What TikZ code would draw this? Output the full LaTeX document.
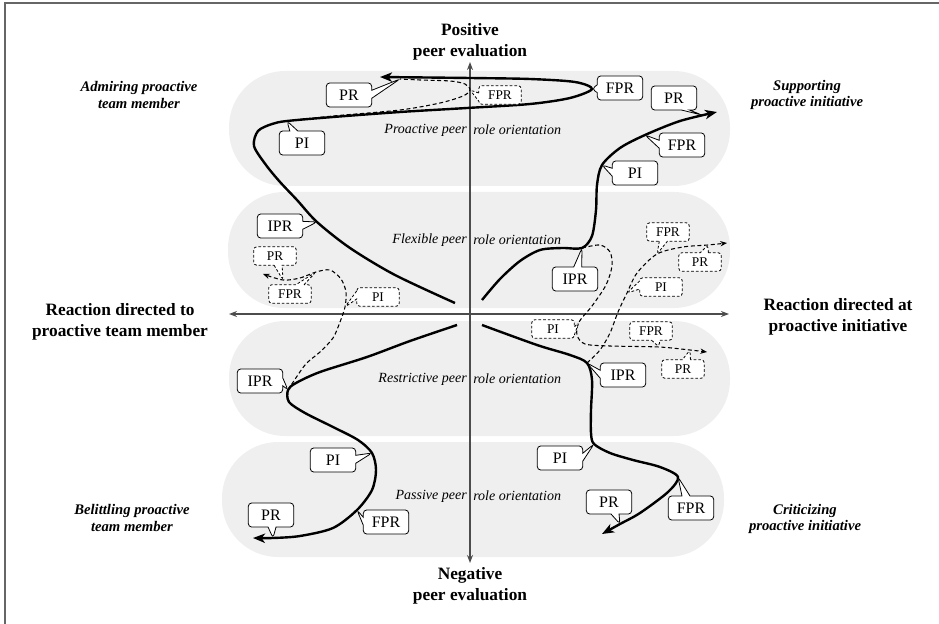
\documentclass[tikz,border=0pt]{standalone}
\usepackage{fontspec}
\setmainfont{Liberation Serif}
\usetikzlibrary{arrows.meta,shapes.callouts}

\definecolor{bandgray}{RGB}{239,239,239}

\begin{document}
\begin{tikzpicture}[x=0.75pt,y=-0.75pt,
    band/.style={fill=bandgray, rounded corners=42pt},
    axis/.style={draw=black!70, line width=1.2pt, {Stealth[length=6pt,width=4.5pt]}-{Stealth[length=6pt,width=4.5pt]}},
    main/.style={line width=1.8pt, -{Stealth[length=9pt,width=7pt,inset=2.5pt]}},
    trace/.style={line width=0.8pt, dash pattern=on 3pt off 2pt},
    tracearrow/.style={trace, -{Stealth[length=5pt,width=4pt]}},
    tag/.style={rectangle callout, draw, fill=white, rounded corners=2.5pt, line width=0.6pt,
                minimum width=34pt, minimum height=18pt, inner sep=1pt, callout pointer width=6pt,
                font=\fontsize{12}{12}\selectfont},
    dtag/.style={tag, dash pattern=on 2pt off 1.5pt, minimum width=32pt, minimum height=14pt,
                 font=\fontsize{10}{10}\selectfont},
    axislabel/.style={align=center, font=\fontsize{13}{16}\selectfont\bfseries},
    cornerlabel/.style={align=center, font=\fontsize{11}{12.5}\selectfont\bfseries\itshape},
    bandlabel/.style={font=\fontsize{10.5}{12}\selectfont\itshape, inner sep=0pt}
  ]

  \useasboundingbox (0,0) rectangle (939,624);
  \draw[black!60, line width=0.8pt] (5,624) -- (5,3) -- (939,3);

  % orientation bands
  \fill[band] (229,71) rectangle (730,186);
  \fill[band] (228,192) rectangle (730,308);
  \fill[band] (229,321) rectangle (730,436);
  \fill[band] (222,442) rectangle (724,557);

  \node[bandlabel, anchor=east] (pro-l) at (467,130) {Proactive peer};
  \node[bandlabel, anchor=west] (pro-r) at (473,130) {role orientation};
  \node[bandlabel, anchor=east] (flx-l) at (467,240) {Flexible peer};
  \node[bandlabel, anchor=west] (flx-r) at (473,240) {role orientation};
  \node[bandlabel, anchor=east] (res-l) at (467,379) {Restrictive peer};
  \node[bandlabel, anchor=west] (res-r) at (473,379) {role orientation};
  \node[bandlabel, anchor=east] (pas-l) at (467,496) {Passive peer};
  \node[bandlabel, anchor=west] (pas-r) at (473,496) {role orientation};

  % axes
  \coordinate (ax-n) at (470,62);
  \coordinate (ax-s) at (470,563);
  \coordinate (ax-w) at (229,314);
  \coordinate (ax-e) at (729,314);
  \draw[axis] (ax-n) -- (ax-s);
  \draw[axis] (ax-w) -- (ax-e);

  \node[axislabel] (pos) at (470,42) {Positive\\peer evaluation};
  \node[axislabel] (neg) at (470,586) {Negative\\peer evaluation};
  \node[axislabel] (left) at (120,322) {Reaction directed to\\proactive team member};
  \node[axislabel] (right) at (838,317) {Reaction directed at\\proactive initiative};

  \node[cornerlabel] (adm) at (139,95) {Admiring proactive\\team member};
  \node[cornerlabel] (sup) at (807,95) {Supporting\\proactive initiative};
  \node[cornerlabel] (bel) at (132,518) {Belittling proactive\\team member};
  \node[cornerlabel] (cri) at (805,519) {Criticizing\\proactive initiative};

  % points on the paths
  \coordinate (adm-s) at (455,303);
  \coordinate (adm-ipr) at (317,222);
  \coordinate (adm-pi) at (287,121);
  \coordinate (adm-fpr) at (592,89);
  \coordinate (adm-pr) at (400,79);
  \coordinate (adm-e) at (380,77);

  \coordinate (sup-s) at (482,300);
  \coordinate (sup-ipr) at (582,248);
  \coordinate (sup-pi) at (602,165);
  \coordinate (sup-fpr) at (645,135);
  \coordinate (sup-pr) at (702,115);
  \coordinate (sup-e) at (717,112);

  \coordinate (bel-s) at (457,325);
  \coordinate (bel-ipr) at (288,390);
  \coordinate (bel-pi) at (372,453);
  \coordinate (bel-fpr) at (357,510);
  \coordinate (bel-pr) at (273,538);
  \coordinate (bel-e) at (253,538);

  \coordinate (cri-s) at (482,325);
  \coordinate (cri-ipr) at (587,363);
  \coordinate (cri-pi) at (594,444);
  \coordinate (cri-fpr) at (678,477);
  \coordinate (cri-pr) at (620,524);
  \coordinate (cri-e) at (602,534);

  \coordinate (top-fpr) at (470,90);
  \coordinate (fl-pi) at (345,307);
  \coordinate (fl-fpr) at (316,272);
  \coordinate (fl-pr) at (283,280);
  \coordinate (fl-e) at (263,274);
  \coordinate (gr-pi) at (579,322);
  \coordinate (gr-fpr) at (659,347);
  \coordinate (gr-pr) at (690,350);
  \coordinate (gr-e) at (707,352);
  \coordinate (hr-pi) at (627,293);
  \coordinate (hr-fpr) at (657,254);
  \coordinate (hr-pr) at (708,245);
  \coordinate (hr-e) at (727,243);

  % dashed paths
  \draw[trace] plot[smooth] coordinates {(adm-pi) (333,116) (400,110) (440,103) (463,96) (top-fpr) (465,84) (450,81) (420,80) (adm-pr)};
  \draw[tracearrow] plot[smooth] coordinates {(bel-ipr) (305,365) (320,352) (333,338) (340,322) (fl-pi) (346,292) (341,279) (330,270) (fl-fpr) (300,278) (fl-pr) (fl-e)};
  \draw[tracearrow] plot[smooth] coordinates {(sup-ipr) (600,245) (610,252) (612,266) (606,285) (592,306) (gr-pi) (577,335) (585,344) (610,346) (gr-fpr) (gr-pr) (gr-e)};
  \draw[tracearrow] plot[smooth] coordinates {(cri-ipr) (600,350) (610,333) (618,312) (hr-pi) (637,273) (hr-fpr) (683,247) (hr-pr) (hr-e)};

  % solid paths
  \draw[main] plot[smooth] coordinates {(adm-s) (395,275) (350,248) (adm-ipr) (297,200) (280,182) (266,165) (254,146) (258,131) (272,124) (adm-pi) (333,117) (400,112) (467,108) (530,104) (570,98) (adm-fpr) (575,82) (530,79) (470,78) (adm-e)};
  \draw[main] plot[smooth] coordinates {(sup-s) (500,279) (520,261) (540,250) (562,248) (sup-ipr) (592,236) (596,210) (597,185) (sup-pi) (620,148) (sup-fpr) (680,121) (sup-e)};
  \draw[main] plot[smooth] coordinates {(bel-s) (410,341) (367,357) (320,372) (296,383) (bel-ipr) (289,402) (305,413) (333,427) (358,440) (bel-pi) (376,470) (372,490) (bel-fpr) (333,528) (300,536) (bel-pr) (bel-e)};
  \draw[main] plot[smooth] coordinates {(cri-s) (537,345) (570,355) (cri-ipr) (592,380) (591,410) (591,433) (cri-pi) (610,453) (633,460) (660,467) (cri-fpr) (668,492) (640,513) (cri-pr) (cri-e)};

  % solid callouts
  \node[tag, callout absolute pointer={(adm-pr)}] (t-adm-pr) at (349,95) {PR};
  \node[tag, callout absolute pointer={(adm-pi)}] (t-adm-pi) at (302,143) {PI};
  \node[tag, callout absolute pointer={(adm-fpr)}] (t-adm-fpr) at (620,88) {FPR};
  \node[tag, callout absolute pointer={(adm-ipr)}] (t-adm-ipr) at (280,226) {IPR};
  \node[tag, callout absolute pointer={(sup-pr)}] (t-sup-pr) at (674,98) {PR};
  \node[tag, callout absolute pointer={(sup-fpr)}] (t-sup-fpr) at (682,145) {FPR};
  \node[tag, callout absolute pointer={(sup-pi)}] (t-sup-pi) at (635,173) {PI};
  \node[tag, callout absolute pointer={(sup-ipr)}] (t-sup-ipr) at (575,279) {IPR};
  \node[tag, callout absolute pointer={(bel-ipr)}] (t-bel-ipr) at (260,381) {IPR};
  \node[tag, callout absolute pointer={(bel-pi)}] (t-bel-pi) at (333,460) {PI};
  \node[tag, callout absolute pointer={(bel-fpr)}] (t-bel-fpr) at (386,522) {FPR};
  \node[tag, callout absolute pointer={(bel-pr)}] (t-bel-pr) at (271,515) {PR};
  \node[tag, callout absolute pointer={(cri-ipr)}] (t-cri-ipr) at (623,375) {IPR};
  \node[tag, callout absolute pointer={(cri-pi)}] (t-cri-pi) at (560,458) {PI};
  \node[tag, callout absolute pointer={(cri-fpr)}] (t-cri-fpr) at (691,508) {FPR};
  \node[tag, callout absolute pointer={(cri-pr)}] (t-cri-pr) at (609,502) {PR};

  % dashed callouts
  \node[dtag, callout absolute pointer={(top-fpr)}] (t-top-fpr) at (500,95) {FPR};
  \node[dtag, callout absolute pointer={(fl-pr)}] (t-fl-pr) at (275,256) {PR};
  \node[dtag, callout absolute pointer={(fl-fpr)}] (t-fl-fpr) at (290,294) {FPR};
  \node[dtag, callout absolute pointer={(fl-pi)}] (t-fl-pi) at (378,297) {PI};
  \node[dtag, callout absolute pointer={(gr-pi)}] (t-gr-pi) at (553,329) {PI};
  \node[dtag, callout absolute pointer={(gr-fpr)}] (t-gr-fpr) at (651,331) {FPR};
  \node[dtag, callout absolute pointer={(gr-pr)}] (t-gr-pr) at (683,369) {PR};
  \node[dtag, callout absolute pointer={(hr-fpr)}] (t-hr-fpr) at (668,232) {FPR};
  \node[dtag, callout absolute pointer={(hr-pr)}] (t-hr-pr) at (700,262) {PR};
  \node[dtag, callout absolute pointer={(hr-pi)}] (t-hr-pi) at (661,287) {PI};
\end{tikzpicture}
\end{document}
